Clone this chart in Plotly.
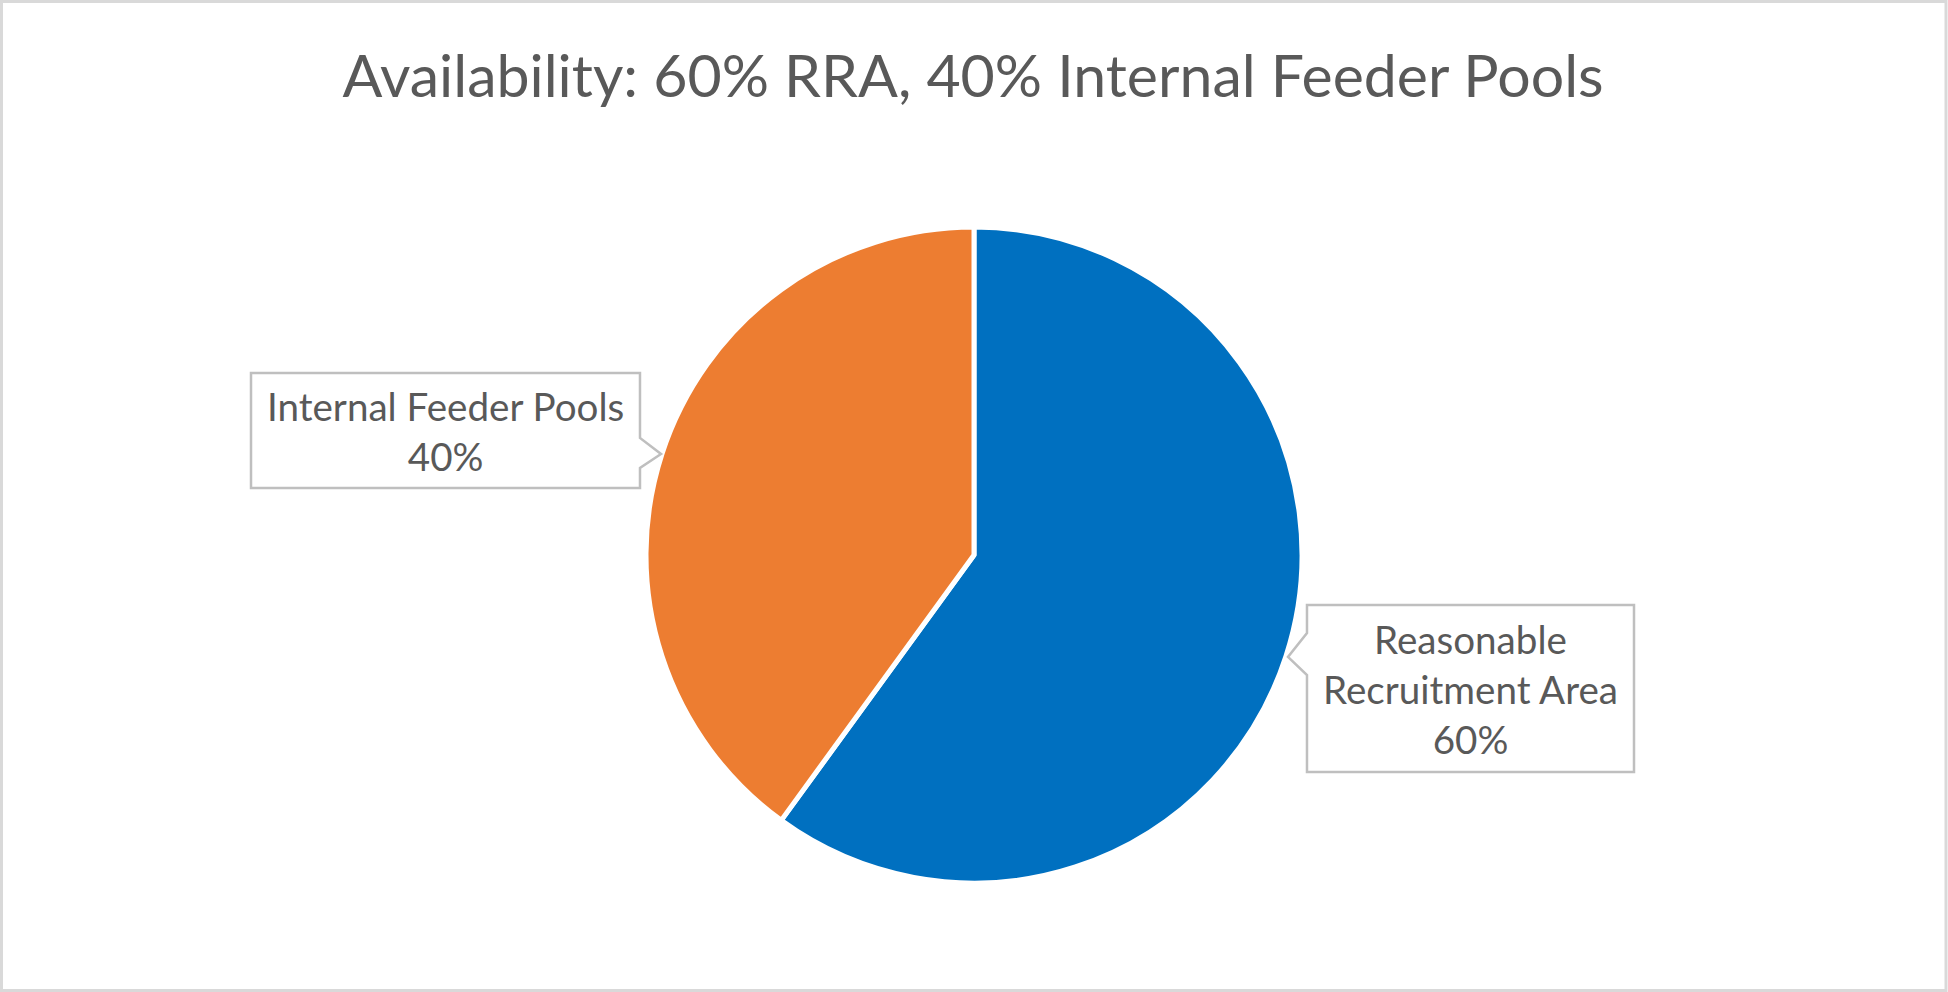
import plotly.graph_objects as go

# ---- data ----
categories = ["Reasonable Recruitment Area", "Internal Feeder Pools"]
label_lines = [["Reasonable", "Recruitment Area"], ["Internal Feeder Pools"]]
values = [60, 40]
colors = ["#0070C0", "#ED7D31"]
title_text = "Availability: 60% RRA, 40% Internal Feeder Pools"

W, H = 1948, 992
FONT = "Lato"
TXT = "#595959"


def px(x):
    return x / W


def py(y):
    return 1 - y / H


def path(points):
    s = "M " + " L ".join(f"{px(x):.5f},{py(y):.5f}" for x, y in points) + " Z"
    return s


fig = go.Figure()
fig.add_trace(go.Pie(
    labels=categories,
    values=values,
    sort=False,
    direction="clockwise",
    rotation=0,
    textinfo="none",
    hoverinfo="label+percent",
    marker=dict(colors=colors, line=dict(color="white", width=5)),
    domain=dict(x=[px(645), px(1303)], y=[py(883), py(227)]),
    showlegend=False,
))

# callout outlines (label decoration)
callouts = [
    # right label (RRA): notch on left side
    [(1307, 605), (1634, 605), (1634, 772), (1307, 772), (1307, 675), (1288, 657), (1307, 633)],
    # left label (IFP): notch on right side
    [(251, 373), (640, 373), (640, 438), (661, 454), (640, 468), (640, 488), (251, 488)],
]
label_centers = [(1470, 689), (445.5, 431)]

shapes = []
for pts in callouts:
    shapes.append(dict(type="path", xref="paper", yref="paper", path=path(pts),
                       fillcolor="white", line=dict(color="#BFBFBF", width=2.5), layer="above"))
# outer chart frame
shapes.append(dict(type="rect", xref="paper", yref="paper",
                   x0=px(1.5), x1=px(W - 2), y0=py(H - 1.5), y1=py(1.5),
                   line=dict(color="#D9D9D9", width=3), layer="above"))

annotations = []
for lines, v, (cx, cy) in zip(label_lines, values, label_centers):
    annotations.append(dict(
        text="<br>".join(lines + [f"{v}%"]),
        x=px(cx), y=py(cy), xref="paper", yref="paper",
        xanchor="center", yanchor="middle", align="center",
        showarrow=False, font=dict(family=FONT, size=38.6, color=TXT),
    ))

fig.update_layout(
    width=W, height=H,
    margin=dict(l=0, r=0, t=0, b=0),
    paper_bgcolor="white",
    plot_bgcolor="white",
    title=dict(text=title_text, x=px(973), y=py(76), xanchor="center", yanchor="middle",
               font=dict(family=FONT, size=59, color=TXT)),
    shapes=shapes,
    annotations=annotations,
)

fig.write_html("out.html", config={"displayModeBar": False},
               post_script="document.body.style.margin='0';document.body.style.overflow='hidden';")
